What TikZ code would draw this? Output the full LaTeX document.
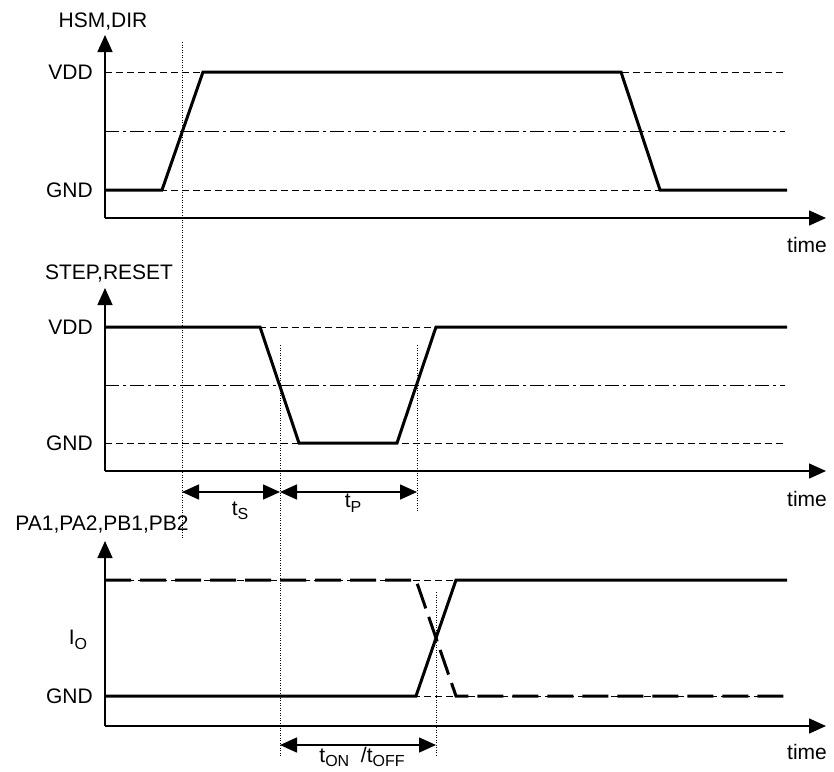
\documentclass[tikz,border=0pt]{standalone}
\usepackage{fontspec}
\setmainfont{Liberation Sans}
\usetikzlibrary{arrows.meta, positioning}

\newcommand{\lowsub}[1]{\raisebox{-0.4ex}{\fontsize{16}{16}\selectfont #1}}

\tikzset{
  axis/.style={line width=1.5pt, -{Triangle[length=17pt, width=15pt]}},
  signal/.style={line width=3pt, line join=miter},
  signaldash/.style={line width=3pt, dash pattern=on 26pt off 9pt},
  level/.style={line width=1pt, dash pattern=on 7pt off 4pt},
  midlevel/.style={line width=1pt, dash pattern=on 14pt off 4pt on 3pt off 4pt},
  marker/.style={line width=0.9pt, dash pattern=on 1pt off 1.5pt},
  dimline/.style={line width=1.5pt, {Triangle[length=17pt, width=15pt]}-{Triangle[length=17pt, width=15pt]}},
  lbl/.style={font=\fontsize{21}{25}\selectfont, inner sep=0pt},
}

\begin{document}
\begin{tikzpicture}[x=1pt, y=-1pt]
  \useasboundingbox (0,0) rectangle (834,771);

  % Axes of the three panels
  \draw[axis] (105,218) -- (826,218);
  \draw[axis] (105,218) -- (105,35);
  \draw[axis] (105,471) -- (826,471);
  \draw[axis] (105,471) -- (105,288);
  \draw[axis] (105,726) -- (826,726);
  \draw[axis] (105,726) -- (105,541);

  % Labels of the axes
  \node[lbl] (hsm) at (103,22) {HSM,DIR};
  \node[lbl, anchor=east] (vdd1) at (93,72) {VDD};
  \node[lbl, anchor=east] (gnd1) at (93,190) {GND};
  \node[lbl] (time1) at (807,245) {time};
  \node[lbl] (step) at (109,274) {STEP,RESET};
  \node[lbl, anchor=east] (vdd2) at (93,327) {VDD};
  \node[lbl, anchor=east] (gnd2) at (93,443) {GND};
  \node[lbl] (time2) at (807,499) {time};
  \node[lbl] (pins) at (102,525) {PA1,PA2,PB1,PB2};
  \node[lbl] (io) at (78,640) {I\lowsub{O}};
  \node[lbl, anchor=east] (gnd3) at (93,696) {GND};
  \node[lbl] (time3) at (807,752) {time};

  % Reference levels
  \draw[level] (105,72) -- (785,72);
  \draw[midlevel] (105,131) -- (785,131);
  \draw[level] (105,190) -- (785,190);
  \draw[level] (105,327) -- (785,327);
  \draw[midlevel] (105,385) -- (785,385);
  \draw[level] (105,443) -- (785,443);
  \draw[level] (105,580) -- (785,580);
  \draw[level] (105,696) -- (785,696);

  % Signals
  \draw[signal] (105,190) -- (162,190) -- (203,72) -- (621,72) -- (660,190) -- (787,190);
  \draw[signal] (105,327) -- (260,327) -- (299,443) -- (397,443) -- (436,327) -- (787,327);
  \draw[signal] (105,696) -- (416,696) -- (456,580) -- (787,580);
  \draw[signaldash] (105,580) -- (416,580) -- (456,696) -- (787,696);

  % Timing markers
  \coordinate (ts1) at (182,492);
  \coordinate (ts2) at (280,492);
  \coordinate (tp2) at (417,492);
  \coordinate (ton1) at (280,745);
  \coordinate (ton2) at (436,745);
  \draw[marker] (182,42) -- (182,539);
  \draw[marker] (280,345) -- (280,756);
  \draw[marker] (417,345) -- (417,512);
  \draw[marker] (436,592) -- (436,756);

  % Intervals
  \draw[dimline] (ts1) -- (ts2);
  \draw[dimline] (ts2) -- (tp2);
  \draw[dimline] (ton1) -- (ton2);
  \node[lbl] (tslbl) at (240,511) {t\lowsub{S}};
  \node[lbl] (tplbl) at (353,503) {t\lowsub{P}};
  \node[lbl] (tonlbl) at (362,757) {t\lowsub{ON}\ \ /t\lowsub{OFF}};
\end{tikzpicture}
\end{document}
